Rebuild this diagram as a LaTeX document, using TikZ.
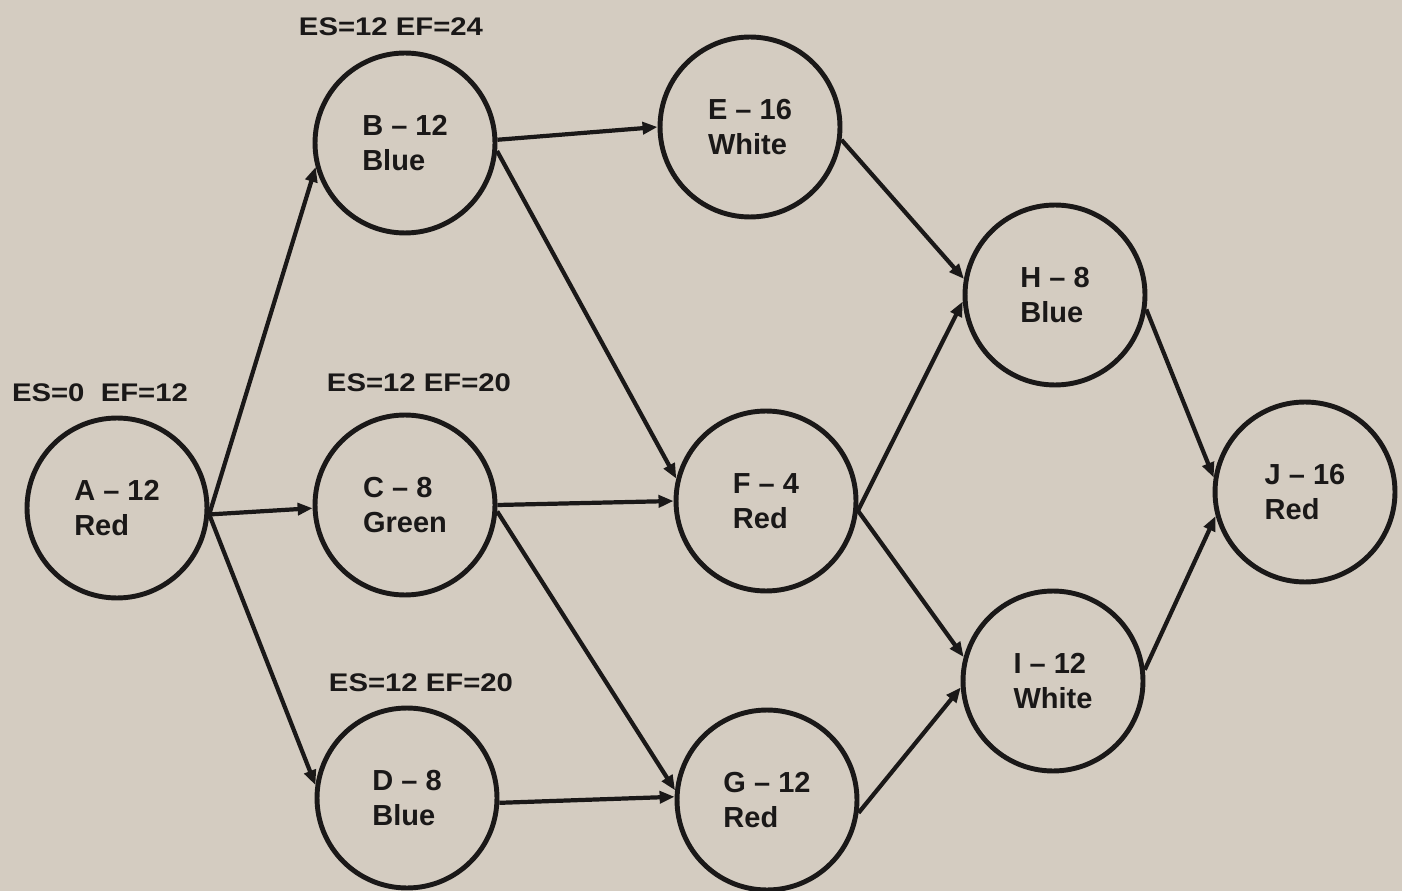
\documentclass[tikz,border=0pt]{standalone}
\usepackage{fontspec}
\setmainfont{Liberation Sans}
\newfontfamily\lblfont[FakeStretch=1.15]{Liberation Sans}
\usetikzlibrary{arrows.meta}
\definecolor{paper}{RGB}{212,204,193}
\definecolor{ink}{RGB}{26,24,24}
\tikzset{
  act/.style={circle, draw=ink, line width=2.8pt, minimum size=3.6cm, inner sep=0pt,
    align=left, text=ink, font=\fontsize{16.5}{20}\selectfont\bfseries},
  lbl/.style={text=ink, font=\lblfont\fontsize{14.5}{17}\selectfont\bfseries, inner sep=0pt},
  edge/.style={draw=ink, line width=2.4pt, -{Triangle[length=0.3cm,width=0.24cm]}}
}
\begin{document}
\begin{tikzpicture}[x=0.02cm, y=-0.02cm]
\fill[paper] (0,0) rectangle (1402,891);
\useasboundingbox (0,0) rectangle (1402,891);
\node[act] (A) at (117,508) {A -- 12\\Red};
\node[act] (B) at (405,143) {B -- 12\\Blue};
\node[act] (C) at (405,505) {C -- 8\\Green};
\node[act] (D) at (407,798) {D -- 8\\Blue};
\node[act] (E) at (750,127) {E -- 16\\White};
\node[act] (F) at (766,501) {F -- 4\\Red};
\node[act] (G) at (767,800) {G -- 12\\Red};
\node[act] (H) at (1055,295) {H -- 8\\Blue};
\node[act] (I) at (1053,681) {I -- 12\\White};
\node[act] (J) at (1305,492) {J -- 16\\Red};
\node[lbl] (lA) at (100,393) {ES=0\ \ EF=12};
\node[lbl] (lB) at (391,27) {ES=12 EF=24};
\node[lbl] (lC) at (419,383) {ES=12 EF=20};
\node[lbl] (lD) at (421,683) {ES=12 EF=20};
\draw[edge] (A.-4) -- (B.195);
\draw[edge] (A.-4) -- (C.182);
\draw[edge] (A.-4) -- (D.172);
\draw[edge] (B.2) -- (E.180);
\draw[edge] (B.-5) -- (F.166);
\draw[edge] (C.0) -- (F.180);
\draw[edge] (C.-4) -- (G.174);
\draw[edge] (D.-3) -- (G.178);
\draw[edge] (E.-8) -- (H.170);
\draw[edge] (F.-6) -- (H.184);
\draw[edge] (F.-6) -- (I.165);
\draw[edge] (G.-8) -- (I.184);
\draw[edge] (H.-9) -- (J.171);
\draw[edge] (I.7) -- (J.195);
\end{tikzpicture}
\end{document}
